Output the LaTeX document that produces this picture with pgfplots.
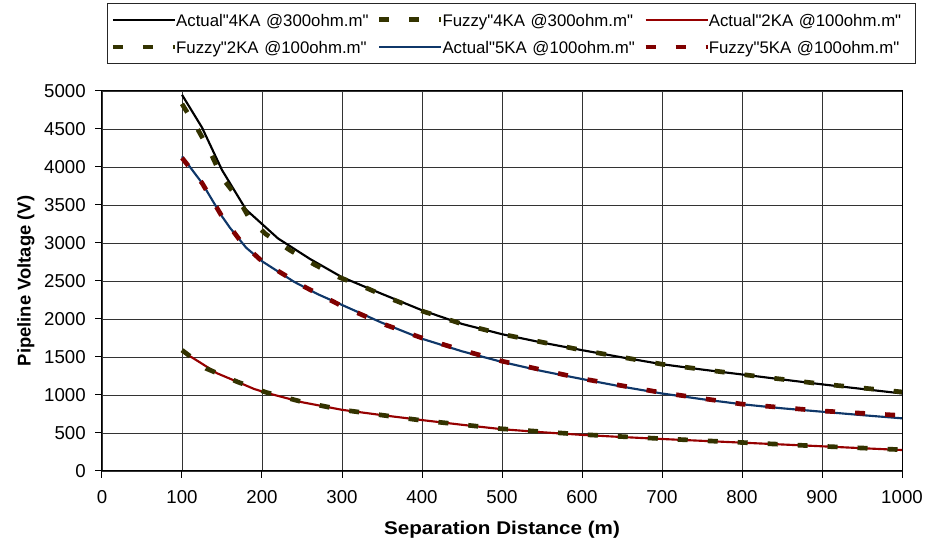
\documentclass[border=0pt]{standalone}
\usepackage{fontspec}
\setmainfont{Liberation Sans}[Ligatures=TeXOff]
\usepackage{pgfplots}
\pgfplotsset{compat=1.18}
\definecolor{olivedk}{RGB}{51,51,0}
\definecolor{dkred}{RGB}{128,0,0}
\definecolor{redline}{RGB}{150,0,0}
\definecolor{dkblue}{RGB}{15,55,105}
\begin{document}
\begin{tikzpicture}
\useasboundingbox (-76.5pt,-52.5pt) rectangle (617.25pt,353.25pt);
\begin{axis}[
  scale only axis, width=600pt, height=285pt,
  xmin=0, xmax=1000, ymin=0, ymax=5000,
  xtick={0,100,...,1000}, ytick={0,500,...,5000},
  scaled ticks=false,
  /pgf/number format/1000 sep={},
  /pgf/number format/assume math mode=true,
  grid=major, major grid style={draw=black!80, line width=0.6pt},
  axis line style={black, line width=0.75pt},
  tick style={black, line width=0.75pt},
  tick align=outside, major tick length=5pt,
  xtick pos=bottom, ytick pos=left,
  ticklabel style={font=\fontsize{14}{16}\selectfont},
  xticklabel style={anchor=north, inner sep=0pt, yshift=-9.5pt},
  yticklabel style={anchor=east, inner sep=0pt, xshift=-7pt},
  xlabel={\scalebox{1.12}[1]{Separation Distance (m)}},
  ylabel={Pipeline Voltage (V)},
  label style={font=\fontsize{13.8}{16}\selectfont\bfseries},
  xlabel style={at={(axis description cs:0.5,-0.1684)}, anchor=base},
  ylabel style={at={(axis description cs:-0.0891,0.5)}, anchor=base},
  legend columns=3,
  legend style={at={(axis description cs:0.00625,1.2316)}, anchor=north west,
    draw=black!85, line width=0.75pt, fill=white,
    inner xsep=2.25pt, inner ysep=5.5pt,
    font=\fontsize{12.6}{15}\selectfont, row sep=6.8pt,
    nodes={inner sep=0pt, text height=11.5pt, text depth=2pt, text width=153pt, align=left, anchor=west},
    /tikz/every odd column/.append style={column sep=-0.75pt},
    /tikz/every even column/.append style={column sep=-2.5pt}},
  legend image code/.code={\draw[#1] (0pt,0pt) -- (46.5pt,0pt);},
]
% Actual 4KA @300ohm.m
\addplot[black, line width=1.6pt] coordinates {
(100,4950) (125,4520) (150,3960) (180,3440) (220,3060) (260,2790) (300,2550)
(350,2330) (400,2115) (450,1935) (500,1800) (550,1690) (600,1590) (650,1495)
(700,1405) (750,1335) (800,1270) (850,1205) (900,1140) (950,1080) (1000,1020)};
\addlegendentry{Actual"4KA @300ohm.m"}
% Fuzzy 4KA @300ohm.m
\addplot[olivedk, line width=3.5pt, dash pattern=on 7.5pt off 15pt] coordinates {
(100,4830) (120,4490) (135,4205) (150,3860) (170,3590) (185,3310) (205,3115)
(235,2905) (265,2720) (295,2555) (330,2410) (365,2250) (400,2105) (450,1935)
(500,1800) (600,1590) (700,1405) (800,1270) (900,1145) (1000,1040)};
\addlegendentry{Fuzzy"4KA @300ohm.m"}
% Actual 2KA @100ohm.m
\addplot[redline, line width=1.6pt] coordinates {
(100,1575) (120,1445) (144,1285) (170,1170) (190,1080) (205,1030) (250,905)
(300,805) (350,735) (400,670) (450,608) (500,550) (550,510) (600,475) (650,447)
(700,421) (750,397) (800,373) (850,349) (900,325) (950,300) (1000,276)};
\addlegendentry{Actual"2KA @100ohm.m"}
% Fuzzy 2KA @100ohm.m
\addplot[olivedk, line width=3.5pt, dash pattern=on 7.5pt off 15pt] coordinates {
(100,1590) (130,1350) (170,1170) (205,1035) (250,910) (300,805) (350,735)
(400,665) (450,610) (500,555) (600,480) (700,425) (800,375) (900,325) (1000,280)};
\addlegendentry{Fuzzy"2KA @100ohm.m"}
% Actual 5KA @100ohm.m
\addplot[dkblue, line width=1.6pt] coordinates {
(100,4140) (125,3790) (150,3350) (160,3200) (180,2940) (200,2760) (240,2490)
(270,2325) (300,2185) (350,1950) (400,1740) (450,1575) (500,1435) (550,1315)
(600,1210) (650,1110) (700,1020) (750,945) (800,878) (850,825) (900,780)
(950,735) (1000,693)};
\addlegendentry{Actual"5KA @100ohm.m"}
% Fuzzy 5KA @100ohm.m
\addplot[dkred, line width=3.5pt, dash pattern=on 7.5pt off 15pt] coordinates {
(100,4120) (125,3790) (150,3350) (175,3000) (200,2760) (250,2440) (300,2170)
(350,1940) (400,1750) (450,1590) (500,1445) (600,1215) (700,1030) (800,880)
(900,790) (1000,730)};
\addlegendentry{Fuzzy"5KA @100ohm.m"}
\end{axis}
\end{tikzpicture}
\end{document}
